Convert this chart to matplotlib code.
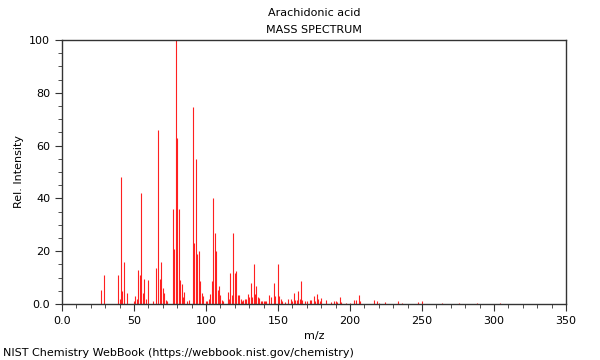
import numpy as np
import matplotlib
matplotlib.use("Agg")
import matplotlib.pyplot as plt
from matplotlib.ticker import MultipleLocator, FixedLocator

# m/z values and relative intensities
mz = [27, 29, 39, 40, 41, 42, 43, 45, 50, 51, 52, 53, 54, 55, 56, 57, 58, 60, 63,
      65, 67, 68, 69, 70, 71, 72, 73, 77, 78, 79, 80, 81, 82, 83, 84, 85, 87, 88,
      91, 92, 93, 94, 95, 96, 97, 98, 100, 101, 102, 103, 104, 105, 106, 107, 108,
      109, 110, 111, 112, 115, 116, 117, 118, 119, 120, 121, 122, 123, 124, 125,
      126, 127, 128, 129, 130, 131, 132, 133, 134, 135, 136, 137, 138, 139, 140,
      141, 142, 144, 145, 147, 148, 150, 151, 152, 153, 155, 157, 159, 160, 161,
      162, 163, 164, 165, 166, 167, 169, 170, 172, 173, 175, 176, 177, 178, 179,
      180, 183, 187, 189, 190, 191, 193, 194, 197, 200, 203, 204, 206, 207, 217,
      219, 220, 224, 233, 236, 247, 250, 264, 276, 288, 304]
intensity = [5.3, 11, 11, 2, 48, 5, 16, 4, 1, 3, 2, 13, 11, 42, 4, 9.5, 2, 9, 1,
             13.6, 66, 9.5, 16, 6, 4, 1.5, 1, 36, 21, 100, 63, 36, 9, 7.6, 2.8, 4.7, 1, 1.5,
             74.5, 23, 55, 19, 20, 8.8, 4, 3, 1, 1, 1.8, 3.8, 8.7, 40, 27, 20, 5.3,
             6.8, 3.4, 1.5, 1, 4.4, 2, 11.6, 3.4, 27, 11.6, 12.6, 3.4, 3.4, 1.8, 1,
             1.5, 1.8, 2, 3.9, 2.6, 8, 2.6, 15, 3.9, 6.8, 2.6, 2.4, 1, 1, 1.2,
             1.2, 1.2, 3.3, 2.8, 8, 3, 15, 3, 1.8, 1, 0.7, 1.8, 2, 1, 4,
             1.5, 1.7, 5, 2, 8.7, 1.5, 1, 1, 1.5, 1.5, 3, 1, 3.6, 1.8, 1,
             2.3, 1.5, 0.8, 1.3, 1, 0.8, 2.5, 0.8, 0.5, 0.3, 1.7, 1.5, 3.5, 1, 1.7,
             1, 0.5, 0.8, 1.3, 0.5, 0.8, 1, 0.5, 0.3, 0.3, 0.3]

x_labels = ["0.0", "50", "100", "150", "200", "250", "300", "350"]
y_labels = ["0.0", "20", "40", "60", "80", "100"]

fig = plt.figure(figsize=(6, 3.6), dpi=100)
ax = fig.add_axes([62/600, 56/360, 504/600, 264/360])

ax.vlines(mz, 0, intensity, color="#ff2020", linewidth=0.8)

ax.set_xlim(0, 350)
ax.set_ylim(0, 100)
ax.xaxis.set_major_locator(FixedLocator(np.arange(0, 351, 50)))
ax.set_xticklabels(x_labels)
ax.xaxis.set_minor_locator(MultipleLocator(10))
ax.yaxis.set_major_locator(FixedLocator(np.arange(0, 101, 20)))
ax.set_yticklabels(y_labels)
ax.yaxis.set_minor_locator(MultipleLocator(5))

ax.tick_params(which="both", direction="out", labelsize=8, color="#333333")
ax.tick_params(which="major", length=5)
ax.tick_params(which="minor", length=3)
for s in ax.spines.values():
    s.set_color("#333333")
    s.set_linewidth(1)

ax.set_xlabel("m/z", fontsize=8)
ax.set_ylabel("Rel. Intensity", fontsize=8)

fig.text(314/600, 1 - 13/360, "Arachidonic acid", ha="center", va="center", fontsize=8)
fig.text(314/600, 1 - 30/360, "MASS SPECTRUM", ha="center", va="center", fontsize=8)
fig.text(3/600, 1 - 353/360, "NIST Chemistry WebBook (https://webbook.nist.gov/chemistry)",
         ha="left", va="center", fontsize=8)

fig.savefig("out.png", dpi=100)
